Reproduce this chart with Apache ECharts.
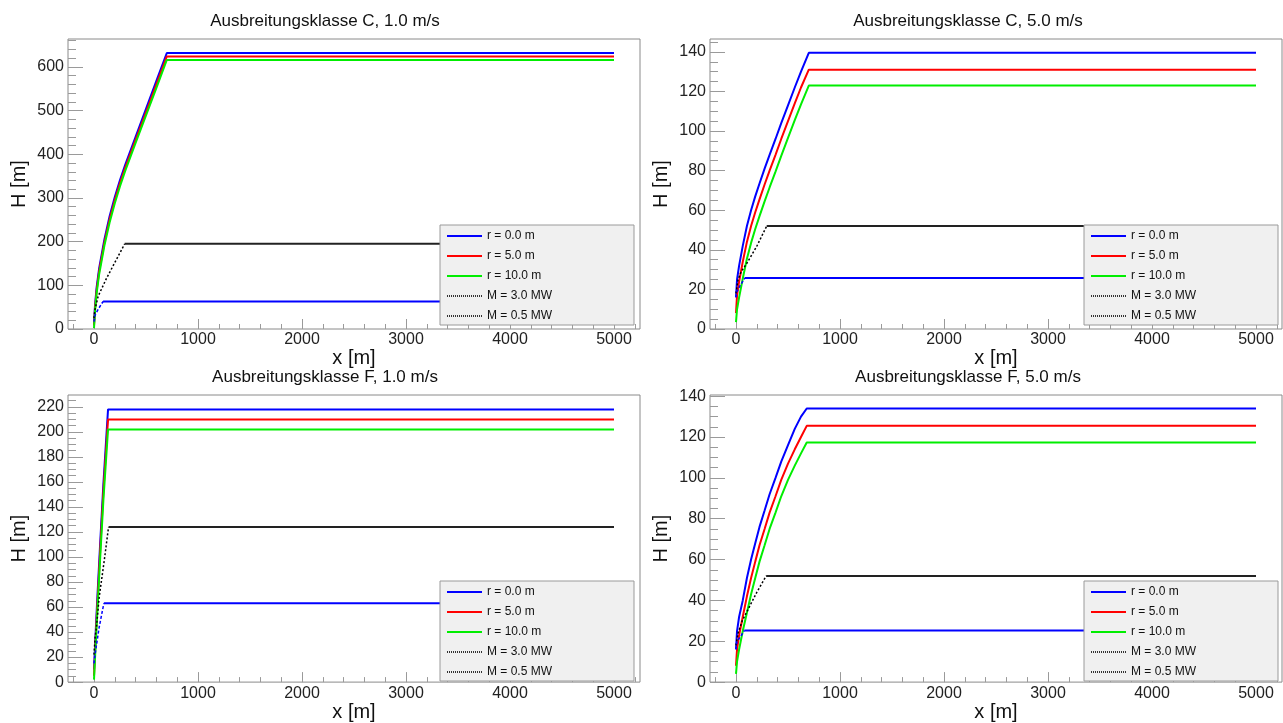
<!DOCTYPE html>
<html>
<head>
<meta charset="utf-8">
<title>Ausbreitungsklasse</title>
<script src="https://cdn.jsdelivr.net/npm/echarts@6/dist/echarts.min.js"></script>
<style>
  html, body { margin: 0; padding: 0; background: #fff; }
  #main { width: 1283px; height: 723px; }
</style>
</head>
<body>
<div id="main"></div>
<script>
// ---- data ----
var titles = ['Ausbreitungsklasse C, 1.0 m/s', 'Ausbreitungsklasse C, 5.0 m/s',
              'Ausbreitungsklasse F, 1.0 m/s', 'Ausbreitungsklasse F, 5.0 m/s'];
var names = ['r = 0.0 m', 'r = 5.0 m', 'r = 10.0 m', 'M = 3.0 MW', 'M = 0.5 MW'];
var xTicks = [0, 1000, 2000, 3000, 4000, 5000];

// C, 1.0 m/s
var xC1 = [0, 10, 25, 50, 100, 150, 200, 250, 300, 400, 500, 600, 700, 5000];
var hC1_r0 = [12, 55, 95, 140, 205, 258, 302, 341, 376, 440, 504, 568, 632, 632];
var hC1_r5 = [8, 48, 88, 133, 198, 251, 295, 334, 369, 433, 496, 560, 624, 624];
var hC1_r10 = [2, 41, 81, 126, 191, 244, 288, 327, 362, 426, 489, 552, 616, 616];
var xC1_m3 = [0, 10, 40, 120, 200, 295, 5000];
var hC1_m3 = [25, 45, 75, 116, 152, 195, 195];
var xC1_m05 = [0, 10, 40, 87, 5000];
var hC1_m05 = [17, 32, 45, 63, 63];
var yTicksC1 = [0, 100, 200, 300, 400, 500, 600];

// C, 5.0 m/s
var xC5 = [0, 10, 30, 65, 105, 145, 185, 226, 275, 323, 380, 435, 500, 565, 625, 700, 5000];
var hC5_r0 = [16, 25, 32, 42, 52, 60, 67, 73.5, 81, 88, 96, 104, 113, 122, 130, 139.5, 139.5];
var hC5_r5 = [8, 17, 24, 34, 44, 52, 59, 65.5, 73, 80, 88, 96, 105, 114, 122, 131, 131];
var hC5_r10 = [3.5, 10, 16, 25.5, 35.5, 43.5, 50.5, 57, 64.5, 71.5, 79.5, 87.5, 96.5, 105.5, 113.5, 123, 123];
var xC5_m3 = [0, 20, 50, 102, 198, 295, 5000];
var hC5_m3 = [18, 25, 29, 33, 41.6, 52, 52];
var xC5_m05 = [0, 10, 35, 85, 5000];
var hC5_m05 = [16, 19, 21.5, 25.8, 25.8];
var yTicksC5 = [0, 20, 40, 60, 80, 100, 120, 140];

// F, 1.0 m/s
var xF1 = [0, 15, 30, 60, 90, 135, 5000];
var hF1_r0 = [10, 38, 64, 112, 158, 218, 218];
var hF1_r5 = [5, 33, 58, 106, 152, 210, 210];
var hF1_r10 = [2, 28, 53, 100, 145, 202, 202];
var xF1_m3 = [0, 10, 25, 50, 100, 140, 5000];
var hF1_m3 = [22, 35, 45, 68, 98, 124, 124];
var xF1_m05 = [0, 10, 50, 95, 5000];
var hF1_m05 = [15, 22, 44, 63, 63];
var yTicksF1 = [0, 20, 40, 60, 80, 100, 120, 140, 160, 180, 200, 220];

// F, 5.0 m/s
var xF5 = [0, 10, 30, 65, 105, 145, 185, 226, 275, 323, 380, 435, 500, 565, 625, 680, 5000];
var hF5_r0 = [16, 25, 32, 40, 51, 60, 68, 76, 84, 92, 100, 108, 116, 124, 130, 134, 134];
var hF5_r5 = [8, 16, 23, 32, 42, 51, 59, 67, 75, 83, 91, 99, 107, 114, 120, 125.5, 125.5];
var hF5_r10 = [4, 10, 16, 25, 34, 43, 51, 59, 67, 75, 83, 91, 99, 106, 112, 117.3, 117.3];
var xF5_m3 = [0, 20, 60, 130, 200, 290, 5000];
var hF5_m3 = [18, 24, 30, 37, 44, 52, 52];
var xF5_m05 = [0, 10, 40, 80, 5000];
var hF5_m05 = [16, 20, 22, 25.3, 25.3];
var yTicksF5 = [0, 20, 40, 60, 80, 100, 120, 140];

// ---- layout ----
var FONT = '"Liberation Sans", Arial, Helvetica, sans-serif';
var panels = [
  { x: xC1, r: [hC1_r0, hC1_r5, hC1_r10], m3x: xC1_m3, m3: hC1_m3, m05x: xC1_m05, m05: hC1_m05, yTicks: yTicksC1, ymax: 664, minor: 20,
    left: 68, top: 39, tx: 325, ty: 12.5, lx: 440, ly: 225 },
  { x: xC5, r: [hC5_r0, hC5_r5, hC5_r10], m3x: xC5_m3, m3: hC5_m3, m05x: xC5_m05, m05: hC5_m05, yTicks: yTicksC5, ymax: 146.5, minor: 5,
    left: 710, top: 39, tx: 968, ty: 12.5, lx: 1084, ly: 225 },
  { x: xF1, r: [hF1_r0, hF1_r5, hF1_r10], m3x: xF1_m3, m3: hF1_m3, m05x: xF1_m05, m05: hF1_m05, yTicks: yTicksF1, ymax: 229.5, minor: 5,
    left: 68, top: 395, tx: 325, ty: 369, lx: 440, ly: 581 },
  { x: xF5, r: [hF5_r0, hF5_r5, hF5_r10], m3x: xF5_m3, m3: hF5_m3, m05x: xF5_m05, m05: hF5_m05, yTicks: yTicksF5, ymax: 140.6, minor: 5,
    left: 710, top: 395, tx: 968, ty: 369, lx: 1084, ly: 581 }
];
var GW = 572, GH = 290;
var colors = ['#0000ff', '#ff0000', '#00ee00'];

function steps(a, b, s) {
  var out = [];
  for (var v = a; v <= b + 1e-9; v += s) out.push(Math.round(v * 1000) / 1000);
  return out;
}
function pts(xs, ys) {
  return xs.map(function (x, i) { return [x, ys[i]]; });
}
function splitRise(xs, ys) {
  var k = ys.indexOf(Math.max.apply(null, ys));
  return { rise: pts(xs.slice(0, k + 1), ys.slice(0, k + 1)), flat: pts(xs.slice(k), ys.slice(k)) };
}
// dotted legend sample: row of small squares
var dotIcon = 'path://';
for (var d = 0; d < 18; d++) dotIcon += 'M' + (2 * d) + ',0h1v2h-1z';
var plain = function (v) { return String(v); };

var tickCol = '#9a9a9a';
var option = {
  backgroundColor: '#fff',
  animation: false,
  title: [], grid: [], xAxis: [], yAxis: [], legend: [], series: []
};

panels.forEach(function (p, i) {
  option.title.push({
    text: titles[i], left: p.tx, top: p.ty, textAlign: 'center', padding: 0,
    textStyle: { fontFamily: FONT, fontSize: 17, fontWeight: 'normal', color: '#111' }
  });
  option.grid.push({
    left: p.left, top: p.top, width: GW, height: GH, show: true,
    borderColor: '#8a8a8a', borderWidth: 1, backgroundColor: '#fff'
  });
  var xa = 2 * i, ya = 2 * i;
  option.xAxis.push({
    gridIndex: i, type: 'value', position: 'bottom', min: -250, max: 5250,
    name: 'x [m]', nameLocation: 'middle', nameGap: 15,
    nameTextStyle: { fontFamily: FONT, fontSize: 20, color: '#111' },
    axisLine: { show: false, onZero: false }, splitLine: { show: false },
    axisTick: { inside: true, length: 10, customValues: xTicks, lineStyle: { color: tickCol } },
    axisLabel: { customValues: xTicks, formatter: plain, margin: 3, fontFamily: FONT, fontSize: 16, color: '#222' }
  });
  // minor x ticks
  option.xAxis.push({
    gridIndex: i, type: 'value', position: 'bottom', min: -250, max: 5250,
    axisLine: { show: false, onZero: false }, splitLine: { show: false },
    axisLabel: { show: false },
    axisTick: { inside: true, length: 5, customValues: steps(-200, 5200, 200), lineStyle: { color: tickCol } }
  });
  option.yAxis.push({
    gridIndex: i, type: 'value', position: 'left', min: 0, max: p.ymax,
    name: 'H [m]', nameLocation: 'middle', nameGap: 39, nameRotate: 90,
    nameTextStyle: { fontFamily: FONT, fontSize: 20, color: '#111' },
    axisLine: { show: false, onZero: false }, splitLine: { show: false },
    axisTick: { inside: true, length: 15, customValues: p.yTicks, lineStyle: { color: tickCol } },
    axisLabel: { customValues: p.yTicks, formatter: plain, margin: 4, fontFamily: FONT, fontSize: 16, color: '#222' }
  });
  option.yAxis.push({
    gridIndex: i, type: 'value', position: 'left', min: 0, max: p.ymax,
    axisLine: { show: false, onZero: false }, splitLine: { show: false },
    axisLabel: { show: false },
    axisTick: { inside: true, length: 8, customValues: steps(0, p.ymax, p.minor), lineStyle: { color: tickCol } }
  });

  p.r.forEach(function (ys, k) {
    option.series.push({
      type: 'line', name: names[k], xAxisIndex: xa, yAxisIndex: ya,
      data: pts(p.x, ys), symbol: 'none', silent: true,
      lineStyle: { color: colors[k], width: 2 }, itemStyle: { color: colors[k] }
    });
  });
  var m3 = splitRise(p.m3x, p.m3);
  var m05 = splitRise(p.m05x, p.m05);
  option.series.push(
    { type: 'line', name: names[3], xAxisIndex: xa, yAxisIndex: ya, data: m3.rise, symbol: 'none', silent: true,
      lineStyle: { color: '#000', width: 1.5, type: [2, 2] }, itemStyle: { color: '#000' } },
    { type: 'line', name: names[3], xAxisIndex: xa, yAxisIndex: ya, data: m3.flat, symbol: 'none', silent: true,
      lineStyle: { color: '#222', width: 2 }, itemStyle: { color: '#000' } },
    { type: 'line', name: names[4], xAxisIndex: xa, yAxisIndex: ya, data: m05.rise, symbol: 'none', silent: true,
      lineStyle: { color: '#0000ff', width: 1.5, type: [3, 2] }, itemStyle: { color: '#0000ff' } },
    { type: 'line', name: names[4], xAxisIndex: xa, yAxisIndex: ya, data: m05.flat, symbol: 'none', silent: true,
      lineStyle: { color: '#0000ff', width: 2 }, itemStyle: { color: '#0000ff' } }
  );

  option.legend.push({
    orient: 'vertical', left: p.lx, top: p.ly,
    icon: 'rect', itemWidth: 35, itemHeight: 2, itemGap: 8,
    padding: [5, 82, 3, 7],
    backgroundColor: '#f0f0f0', borderColor: '#9a9a9a', borderWidth: 1, borderRadius: 0,
    selectedMode: false,
    itemStyle: { borderWidth: 0 },
    textStyle: { fontFamily: FONT, fontSize: 12, color: '#111' },
    data: [
      { name: names[0] }, { name: names[1] }, { name: names[2] },
      { name: names[3], icon: dotIcon, itemStyle: { color: '#333', borderWidth: 0 } },
      { name: names[4], icon: dotIcon, itemStyle: { color: '#333', borderWidth: 0 } }
    ]
  });
});

var chart = echarts.init(document.getElementById('main'));
chart.setOption(option);
</script>
</body>
</html>
